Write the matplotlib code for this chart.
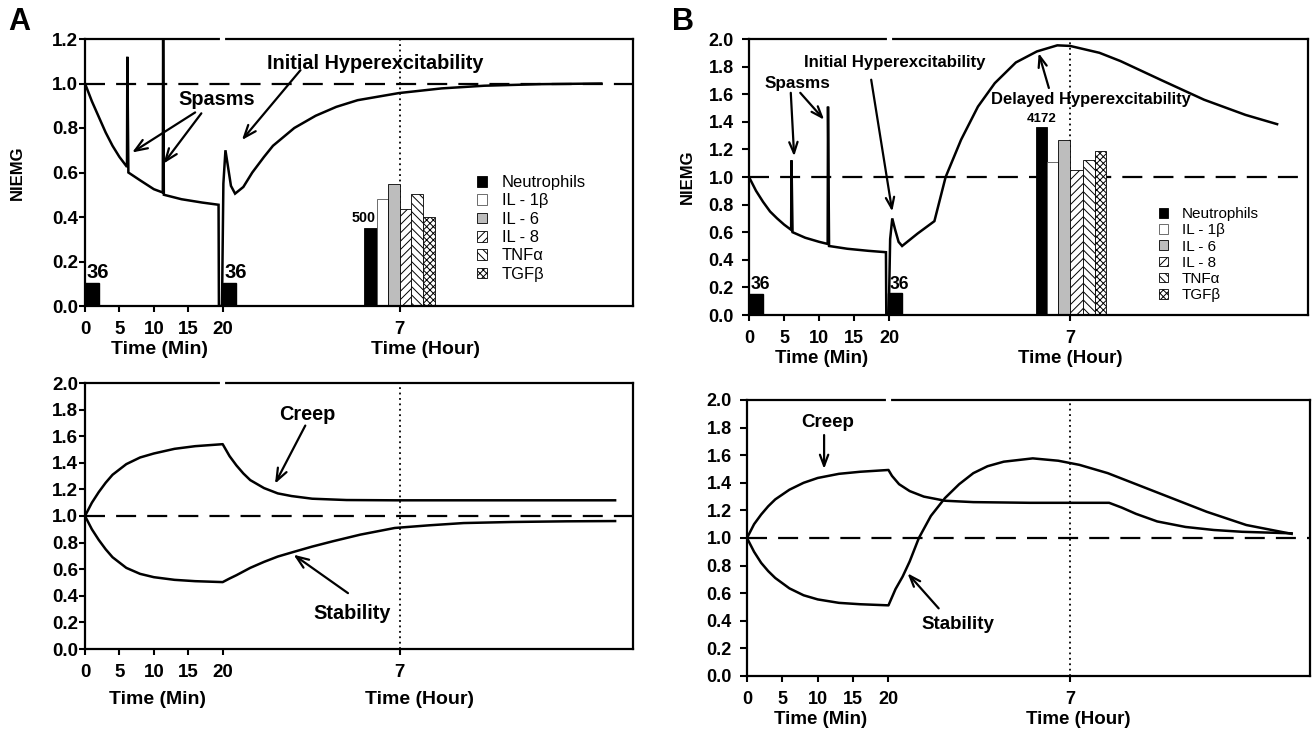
import matplotlib
matplotlib.use('Agg')
import matplotlib.pyplot as plt
from matplotlib.patches import Patch

plt.rcParams['font.family'] = ['Liberation Sans', 'DejaVu Sans']
plt.rcParams['hatch.linewidth'] = 0.7

# x is in axis units: 0-20 are minutes, past 20 is the compressed hour part
min_ticks = [0, 5, 10, 15, 20]
hour_tick = 45.7
x_max = 79.6

cyto_names = ['Neutrophils', 'IL - 1\u03b2', 'IL - 6', 'IL - 8', 'TNF\u03b1', 'TGF\u03b2']

# ---- panel A, top: NIEMG trace ----
a_top_x = [0, 1, 2, 3, 4, 5, 6.1, 6.15, 6.3, 8, 10, 11.3, 11.35, 11.45, 14, 17, 19.4, 19.45,
           19.9, 20.1, 20.4, 20.7, 21.2, 21.8, 23, 24.3, 26, 27.3, 30.4, 33.5, 36.5, 39.6,
           45.6, 51.8, 58, 66, 75]
a_top_y = [1.0, 0.92, 0.85, 0.78, 0.72, 0.67, 0.625, 1.12, 0.60, 0.565, 0.525, 0.51, 1.25, 0.50,
           0.48, 0.465, 0.455, 0.0, 0.0, 0.55, 0.70, 0.64, 0.54, 0.505, 0.535, 0.60, 0.67, 0.72,
           0.80, 0.855, 0.895, 0.925, 0.957, 0.978, 0.99, 0.997, 1.0]
a_min_bar_x = [0, 20]
a_min_bar_h = [0.105, 0.105]
a_min_bar_lbl = ['36', '36']
a_hour_bar_x = [40.5, 42.4, 44.0, 45.7, 47.4, 49.1]
a_hour_bar_h = [0.35, 0.48, 0.55, 0.435, 0.505, 0.40]
a_hour_lbl = '500'

# ---- panel A, bottom: creep / stability ----
a_creep_x = [0, 1, 2, 3, 4, 6, 8, 10, 13, 16, 20, 21, 22, 23, 24, 26, 28, 30, 33, 38, 45, 77]
a_creep_y = [1.0, 1.1, 1.18, 1.25, 1.31, 1.39, 1.44, 1.47, 1.505, 1.525, 1.54, 1.45, 1.38, 1.32,
             1.27, 1.21, 1.17, 1.15, 1.13, 1.12, 1.118, 1.118]
a_stab_x = [0, 1, 2, 3, 4, 6, 8, 10, 13, 16, 20, 21, 22, 24, 26, 28, 30.3, 33, 36, 40, 45, 50,
            55, 62, 70, 77]
a_stab_y = [1.0, 0.9, 0.82, 0.75, 0.69, 0.61, 0.565, 0.54, 0.52, 0.51, 0.503, 0.53, 0.555, 0.61,
            0.655, 0.695, 0.73, 0.77, 0.81, 0.86, 0.91, 0.93, 0.947, 0.955, 0.96, 0.962]

# ---- panel B, top: NIEMG trace ----
b_top_x = [0, 1, 2, 3, 4, 5, 6.0, 6.05, 6.2, 8, 10, 11.2, 11.25, 11.4, 14, 17, 19.5, 19.55,
           19.9, 20.1, 20.4, 20.8, 21.3, 21.8, 24, 26.4, 28.0, 30.2, 32.6, 35, 38, 41, 43.9,
           45.7, 49.9, 52.9, 58.8, 64.8, 70.7, 75.2]
b_top_y = [1.0, 0.9, 0.82, 0.75, 0.70, 0.655, 0.617, 1.12, 0.60, 0.56, 0.53, 0.515, 1.51, 0.50,
           0.48, 0.465, 0.455, 0.0, 0.0, 0.55, 0.70, 0.62, 0.53, 0.50, 0.59, 0.68, 1.0, 1.27,
           1.51, 1.68, 1.83, 1.91, 1.954, 1.95, 1.90, 1.84, 1.70, 1.56, 1.45, 1.383]
b_min_bar_x = [0, 19.8]
b_min_bar_h = [0.155, 0.157]
b_min_bar_lbl = ['36', '36']
b_hour_bar_x = [40.8, 42.4, 44.0, 45.7, 47.5, 49.2]
b_hour_bar_h = [1.36, 1.11, 1.27, 1.05, 1.12, 1.19]
b_hour_lbl = '4172'

# ---- panel B, bottom: creep / stability ----
b_creep_x = [0, 1, 2, 3, 4, 6, 8, 10, 13, 16, 20, 20.5, 21.5, 23, 25, 28, 32, 40, 51.2, 53, 55,
             58, 62, 66, 70, 77]
b_creep_y = [1.0, 1.1, 1.17, 1.23, 1.28, 1.35, 1.40, 1.435, 1.465, 1.48, 1.493, 1.45, 1.39, 1.34,
             1.30, 1.27, 1.26, 1.255, 1.255, 1.22, 1.175, 1.12, 1.08, 1.058, 1.045, 1.034]
b_stab_x = [0, 1, 2, 3, 4, 6, 8, 10, 13, 16, 20, 21, 22, 23, 24.3, 26, 28, 30, 32, 34, 36.3,
            40.4, 44, 47, 51, 55, 59, 65, 70.6, 74, 77]
b_stab_y = [1.0, 0.9, 0.82, 0.76, 0.71, 0.635, 0.585, 0.555, 0.53, 0.52, 0.512, 0.63, 0.72, 0.83,
            1.0, 1.16, 1.29, 1.39, 1.47, 1.52, 1.553, 1.577, 1.56, 1.53, 1.47, 1.39, 1.31, 1.19,
            1.094, 1.06, 1.03]

bar_face = ['black', 'white', '#bdbdbd', 'white', 'white', 'white']
bar_hatch = [None, None, None, '////', '\\\\\\\\', 'xxxxx']

W, H = 1314, 731
fig = plt.figure(figsize=(W / 100, H / 100), dpi=100)


def px_axes(left, top, right, bottom):
    return fig.add_axes([left / W, 1 - bottom / H, (right - left) / W, (bottom - top) / H])


# Common axis look: ticks, spines, time labels, reference lines
def style_axes(ax, ymax, min_lab_x, hour_lab_x, lab_off, fs, ylen, ypad):
    ax.set_xlim(0, x_max)
    ax.set_ylim(0, ymax)
    n = int(round(ymax / 0.2)) + 1
    ax.set_yticks([i * 0.2 for i in range(n)])
    ax.set_yticklabels(['%.1f' % (i * 0.2) for i in range(n)])
    ax.set_xticks(min_ticks + [hour_tick])
    ax.set_xticklabels([str(t) for t in min_ticks] + ['7'])
    ax.tick_params(axis='x', direction='out', length=4, width=1.5, labelsize=fs, pad=7)
    ax.tick_params(axis='y', direction='out', length=ylen, width=1.5, labelsize=fs, pad=ypad)
    for lbl in ax.get_xticklabels() + ax.get_yticklabels():
        lbl.set_fontweight('bold')
    for sp in ax.spines.values():
        sp.set_linewidth(1.6)
    ax.axhline(1.0, color='black', lw=1.6, ls=(0, (9, 5)), zorder=1)
    ax.axvline(hour_tick, color='black', lw=1.3, ls=(0, (1, 2)), zorder=1)
    # tiny break in the top spine at 20 min
    ax.plot([19.9, 20.1], [ymax, ymax], color='white', lw=3, clip_on=False, zorder=6)
    for xx, txt in [(min_lab_x, 'Time (Min)'), (hour_lab_x, 'Time (Hour)')]:
        ax.annotate(txt, xy=(xx, 0), xycoords=('data', 'axes fraction'),
                    xytext=(0, -lab_off), textcoords='offset points',
                    ha='center', va='center', fontsize=fs + 0.5, fontweight='bold')


def arrow(ax, tail, tip, hl=0.9, hw=0.35):
    ax.annotate('', xy=tip, xytext=tail,
                arrowprops=dict(arrowstyle='->, head_length=%s, head_width=%s' % (hl, hw),
                                lw=1.6, color='black', shrinkA=0, shrinkB=0))


def draw_bars(ax, min_x, min_h, min_lbl, hour_x, hour_h, hour_lbl, hour_lbl_pos, fs_min, fs_lbl):
    ax.bar(min_x, min_h, width=2.0, align='edge', color='black', edgecolor='black', zorder=2)
    for xx, hh, lb in zip(min_x, min_h, min_lbl):
        ax.text(xx + 0.2, hh + 0.005, lb, ha='left', va='bottom', fontsize=fs_min,
                fontweight='bold')
    for i in range(len(hour_x)):
        w = (hour_x[i + 1] if i + 1 < len(hour_x) else hour_x[i] + 1.7) - hour_x[i]
        ax.bar(hour_x[i], hour_h[i], width=w, align='edge', color=bar_face[i],
               edgecolor='black' if i != 1 else '#555555', lw=0.6, hatch=bar_hatch[i], zorder=2)
    ax.text(hour_lbl_pos[0], hour_lbl_pos[1], hour_lbl, ha='center', va='center',
            fontsize=fs_lbl, fontweight='bold')


def add_legend(ax, anchor, spacing, fs):
    handles = [Patch(facecolor=bar_face[i], edgecolor='black' if i != 1 else '#555555',
                     hatch=bar_hatch[i], lw=0.6) for i in range(len(cyto_names))]
    ax.legend(handles, cyto_names, loc='upper left', bbox_to_anchor=anchor, frameon=False,
              fontsize=fs, handlelength=0.6, handleheight=0.6, handletextpad=0.9,
              labelspacing=spacing, borderpad=0, borderaxespad=0)


# ---------- A top ----------
ax = px_axes(85, 39, 633, 306)
style_axes(ax, 1.2, 10.8, 49.4, 31, 13.5, 4, 1)
draw_bars(ax, a_min_bar_x, a_min_bar_h, a_min_bar_lbl, a_hour_bar_x, a_hour_bar_h,
          a_hour_lbl, (40.5, 0.397), 14.5, 10.3)
ax.plot(a_top_x, a_top_y, color='black', lw=1.8, zorder=3, solid_joinstyle='miter')
ax.text(19.2, 0.926, 'Spasms', ha='center', va='center', fontsize=14.3, fontweight='bold')
arrow(ax, (16.0, 0.87), (6.85, 0.69))
arrow(ax, (16.9, 0.866), (11.4, 0.64))
ax.text(42.1, 1.09, 'Initial Hyperexcitability', ha='center', va='center', fontsize=14.3,
        fontweight='bold')
arrow(ax, (31.3, 1.06), (22.8, 0.746))
add_legend(ax, (0.715, 0.49), 0.2, 11.9)
fig.text(17 / W, 1 - 173 / H, 'NIEMG', rotation=90, ha='center', va='center', fontsize=12,
         fontweight='bold')
fig.text(19 / W, 1 - 22 / H, 'A', ha='center', va='center', fontsize=22, fontweight='bold')

# ---------- A bottom ----------
ax = px_axes(85, 383, 633, 649)
style_axes(ax, 2.0, 10.5, 48.6, 36, 13.5, 4, 1)
ax.plot(a_creep_x, a_creep_y, color='black', lw=1.8, zorder=3)
ax.plot(a_stab_x, a_stab_y, color='black', lw=1.8, zorder=3)
ax.text(32.3, 1.764, 'Creep', ha='center', va='center', fontsize=14.3, fontweight='bold')
arrow(ax, (32.0, 1.68), (27.6, 1.243))
ax.text(38.8, 0.27, 'Stability', ha='center', va='center', fontsize=14.3, fontweight='bold')
arrow(ax, (38.2, 0.42), (30.3, 0.709))

# ---------- B top ----------
ax = px_axes(749, 39, 1308, 315)
style_axes(ax, 2.0, 10.3, 45.7, 31, 13, 5, 6)
draw_bars(ax, b_min_bar_x, b_min_bar_h, b_min_bar_lbl, b_hour_bar_x, b_hour_bar_h,
          b_hour_lbl, (41.7, 1.42), 12.7, 9.5)
ax.plot(b_top_x, b_top_y, color='black', lw=1.8, zorder=3, solid_joinstyle='miter')
ax.text(6.9, 1.676, 'Spasms', ha='center', va='center', fontsize=12.3, fontweight='bold')
arrow(ax, (5.95, 1.61), (6.43, 1.15), 0.8, 0.3)
arrow(ax, (7.3, 1.61), (10.7, 1.415), 0.8, 0.3)
ax.text(20.8, 1.833, 'Initial Hyperexcitability', ha='center', va='center', fontsize=12.1,
        fontweight='bold')
arrow(ax, (17.4, 1.705), (20.4, 0.75), 0.8, 0.3)
ax.text(48.7, 1.565, 'Delayed Hyperexcitability', ha='center', va='center', fontsize=11.9,
        fontweight='bold')
arrow(ax, (42.7, 1.645), (41.25, 1.898), 0.8, 0.3)
add_legend(ax, (0.733, 0.39), 0.14, 11)
fig.text(687 / W, 1 - 177 / H, 'NIEMG', rotation=90, ha='center', va='center', fontsize=12,
         fontweight='bold')
fig.text(683 / W, 1 - 22 / H, 'B', ha='center', va='center', fontsize=22, fontweight='bold')

# ---------- B bottom ----------
ax = px_axes(747, 400, 1310, 676)
style_axes(ax, 2.0, 10.4, 46.9, 31, 13, 5, 6)
ax.plot(b_creep_x, b_creep_y, color='black', lw=1.8, zorder=3)
ax.plot(b_stab_x, b_stab_y, color='black', lw=1.8, zorder=3)
ax.text(11.4, 1.836, 'Creep', ha='center', va='center', fontsize=13.5, fontweight='bold')
arrow(ax, (10.9, 1.746), (10.9, 1.50), 0.8, 0.3)
ax.text(29.8, 0.37, 'Stability', ha='center', va='center', fontsize=13.5, fontweight='bold')
arrow(ax, (27.1, 0.49), (22.7, 0.744), 0.8, 0.3)

fig.savefig('out.png', dpi=100, facecolor='white')
